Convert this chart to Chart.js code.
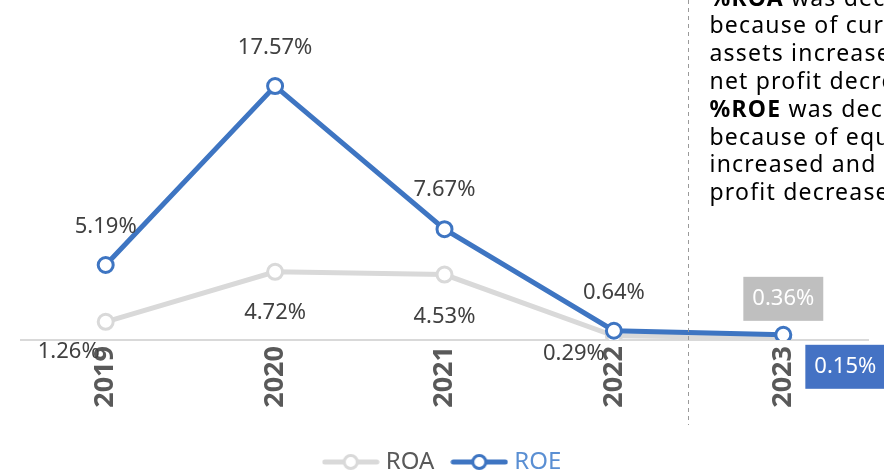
<!DOCTYPE html>
<html>
<head>
<meta charset="utf-8">
<script src="https://cdn.jsdelivr.net/npm/chart.js@4.4.1/dist/chart.umd.min.js"></script>
<style>
  html, body { margin: 0; padding: 0; background: #fff; }
  #wrap { width: 884px; height: 476px; }
</style>
</head>
<body>
<div id="wrap"><canvas id="chart" width="884" height="476"></canvas></div>
<script>
const years = ['2019', '2020', '2021', '2022', '2023'];
const roa = [1.26, 4.72, 4.53, 0.29, 0.15];
const roe = [5.19, 17.57, 7.67, 0.64, 0.36];
const roaLabels = ['1.26%', '4.72%', '4.53%', '0.29%', '0.36%'];
const roeLabels = ['5.19%', '17.57%', '7.67%', '0.64%', '0.15%'];

const noteLines = [
  [['%ROA', true], [' was decreased', false]],
  [['because of current', false]],
  [['assets increased and', false]],
  [['net profit decreased.', false]],
  [['%ROE', true], [' was decreased', false]],
  [['because of equity', false]],
  [['increased and net', false]],
  [['profit decreased.', false]]
];

const FONT = '"Noto Sans", sans-serif';
const BLUE = '#3E75C2';
const GREY = '#D9D9D9';

// label placement relative to each point: [dx, dy, box colour]
const roaLabelPos = [[-37, 30], [0, 41], [0, 42], [-40, 18], [0, -39, '#BFBFBF']];
const roeLabelPos = [[0, -38], [0, -38], [0, -39], [0, -38], [62, 32, '#4472C4']];

function legendIcon(color) {
  const c = document.createElement('canvas');
  c.width = 58; c.height = 20;
  const g = c.getContext('2d');
  g.strokeStyle = color;
  g.lineWidth = 5;
  g.lineCap = 'round';
  g.beginPath(); g.moveTo(3, 10); g.lineTo(55, 10); g.stroke();
  g.beginPath(); g.arc(29, 10, 6.5, 0, Math.PI * 2);
  g.fillStyle = '#fff'; g.fill();
  g.lineWidth = 3; g.stroke();
  return c;
}

const labelPlugin = {
  id: 'valueLabels',
  afterDatasetsDraw(chart) {
    const ctx = chart.ctx;
    const sets = [[0, roaLabels, roaLabelPos], [1, roeLabels, roeLabelPos]];
    ctx.save();
    ctx.font = '22px ' + FONT;
    ctx.textAlign = 'center';
    ctx.textBaseline = 'middle';
    sets.forEach(([di, texts, pos]) => {
      const meta = chart.getDatasetMeta(di);
      meta.data.forEach((pt, i) => {
        const [dx, dy, box] = pos[i];
        const x = pt.x + dx, y = pt.y + dy;
        if (box) {
          const w = ctx.measureText(texts[i]).width + 18;
          ctx.fillStyle = box;
          ctx.fillRect(x - w / 2, y - 22, w, 44);
          ctx.fillStyle = '#fff';
        } else {
          ctx.fillStyle = '#404040';
        }
        ctx.fillText(texts[i], x, y);
      });
    });
    ctx.restore();
  }
};

const notePlugin = {
  id: 'note',
  afterDraw(chart) {
    const ctx = chart.ctx;
    const xs = chart.scales.x;
    const divX = Math.round(xs.getPixelForValue(3.44)) + 0.5;
    ctx.save();
    ctx.strokeStyle = '#9A9A9A';
    ctx.lineWidth = 1;
    ctx.setLineDash([4, 4]);
    ctx.beginPath(); ctx.moveTo(divX, 0); ctx.lineTo(divX, 425); ctx.stroke();
    ctx.setLineDash([]);
    ctx.fillStyle = '#000';
    ctx.textBaseline = 'middle';
    ctx.letterSpacing = '1.2px';
    const left = divX + 21;
    noteLines.forEach((parts, i) => {
      let x = left;
      const y = -1 + i * 27.8;
      parts.forEach(([t, bold]) => {
        ctx.font = (bold ? 'bold ' : '') + '23px ' + FONT;
        ctx.fillText(t, x, y);
        x += ctx.measureText(t).width;
      });
    });
    ctx.restore();
  }
};

new Chart(document.getElementById('chart'), {
  type: 'line',
  data: {
    labels: years,
    datasets: [
      {
        label: 'ROA', data: roa, order: 2,
        borderColor: GREY, borderWidth: 5,
        pointRadius: 7.5, pointBorderWidth: 3,
        pointBackgroundColor: '#fff', pointBorderColor: GREY
      },
      {
        label: 'ROE', data: roe, order: 1,
        borderColor: BLUE, borderWidth: 5,
        pointRadius: 7.5, pointBorderWidth: 3,
        pointBackgroundColor: '#fff', pointBorderColor: BLUE
      }
    ]
  },
  options: {
    responsive: false,
    animation: false,
    layout: { padding: { top: 51, left: 21, right: 16, bottom: -8 } },
    plugins: {
      tooltip: { enabled: false },
      legend: {
        position: 'bottom',
        labels: {
          usePointStyle: true,
          pointStyleWidth: 46,
          padding: 22,
          font: { family: FONT, size: 24 },
          generateLabels(chart) {
            return chart.data.datasets.map((ds, i) => ({
              text: ds.label,
              pointStyle: legendIcon(ds.borderColor),
              fillStyle: '#fff',
              strokeStyle: ds.borderColor,
              lineWidth: 0,
              fontColor: i === 0 ? '#595959' : '#5A8FD3',
              hidden: !chart.isDatasetVisible(i),
              datasetIndex: i
            }));
          }
        }
      }
    },
    scales: {
      x: {
        offset: true,
        grid: { display: true, drawOnChartArea: false, drawTicks: false, color: 'rgba(0,0,0,0)' },
        border: { display: true, color: GREY, width: 2 },
        ticks: {
          autoSkip: false, minRotation: 90, maxRotation: 90, padding: 6,
          color: '#595959',
          font: { family: FONT, size: 27, weight: 'bold' }
        },
        afterFit(scale) { scale.height = 88; }
      },
      y: {
        display: false,
        min: 0, max: 20
      }
    }
  },
  plugins: [labelPlugin, notePlugin]
});
</script>
</body>
</html>
